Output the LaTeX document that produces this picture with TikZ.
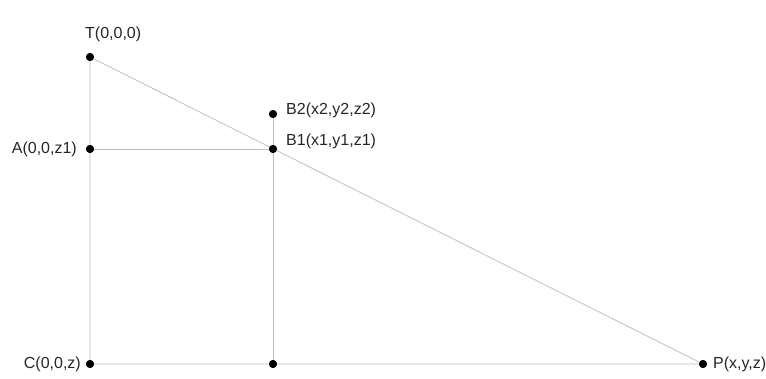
\documentclass[tikz,border=0pt]{standalone}
\usepackage{fontspec}
\setmainfont{Liberation Sans}
\usetikzlibrary{positioning}
\tikzset{
	pt/.style={circle, fill=black, inner sep=0pt, minimum size=8pt},
	ptlabel/.style={font=\fontsize{16}{18}\selectfont, text=black!85, inner sep=0pt},
	edgeline/.style={draw=black!25, line width=0.8pt}
}
\begin{document}
\begin{tikzpicture}[x=1pt, y=-1pt]
	\useasboundingbox (0,0) rectangle (766,378);
	% points
	\node[pt] (T) at (90,57) {};
	\node[pt] (A) at (90,149) {};
	\node[pt] (C) at (90,364) {};
	\node[pt] (B2) at (273,114) {};
	\node[pt] (B1) at (273,149) {};
	\node[pt] (D) at (273,364) {};
	\node[pt] (P) at (703,364) {};
	% labels
	\node[ptlabel, anchor=west] (Tl) at (85,34) {T(0,0,0)};
	\node[ptlabel, anchor=east] (Al) at (77,149) {A(0,0,z1)};
	\node[ptlabel, anchor=east] (Cl) at (81,364) {C(0,0,z)};
	\node[ptlabel, anchor=west] (B2l) at (286,110) {B2(x2,y2,z2)};
	\node[ptlabel, anchor=west] (B1l) at (286,141) {B1(x1,y1,z1)};
	\node[ptlabel, anchor=west] (Pl) at (713,364) {P(x,y,z)};
	% lines
	\draw[edgeline] (T.center) -- (C.center) -- (P.center) -- (T.center);
	\draw[edgeline] (A.center) -- (B1.center);
	\draw[edgeline] (B2.center) -- (D.center);
	% dots on top
	\foreach \p in {T,A,C,B2,B1,D,P}
		\fill (\p) circle (4pt);
\end{tikzpicture}
\end{document}
